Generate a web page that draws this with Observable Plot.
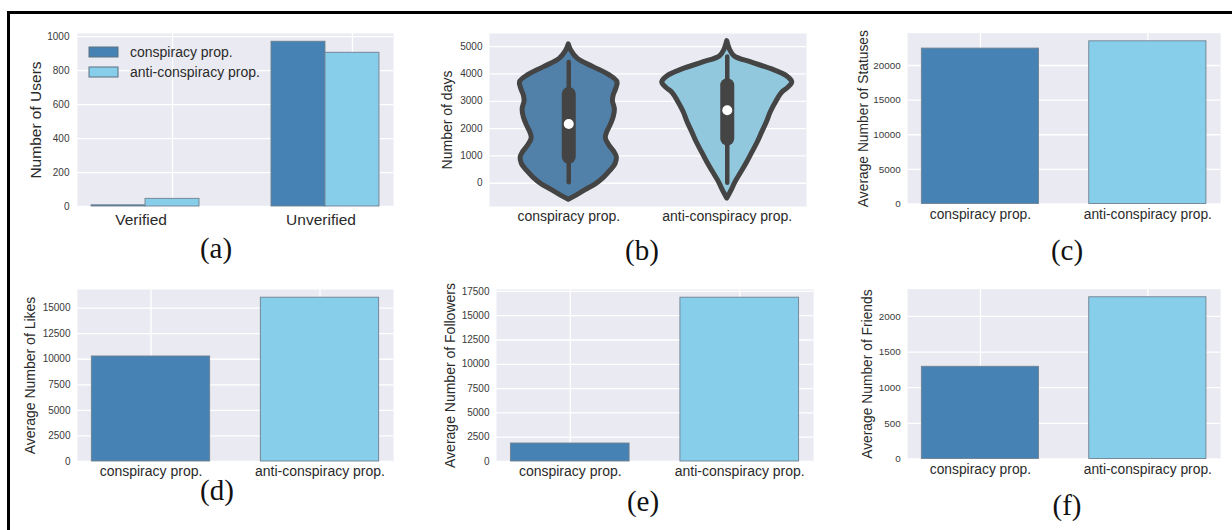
<!DOCTYPE html>
<html><head><meta charset="utf-8">
<script src="https://cdn.jsdelivr.net/npm/d3@7"></script>
<script src="https://cdn.jsdelivr.net/npm/@observablehq/plot@0.6"></script>
<style>
html,body{margin:0;padding:0;background:#fff;}
#page{position:relative;width:1232px;height:530px;overflow:hidden;font-family:"Liberation Sans",Arial,sans-serif;}
#border{position:absolute;left:7px;top:11px;width:1260px;height:560px;border-left:3px solid #000;border-top:3px solid #000;}
.panel{position:absolute;}
.panel svg{overflow:visible;}
.cap{position:absolute;width:60px;margin-left:-30px;text-align:center;font-family:"Liberation Serif","Times New Roman",serif;font-size:29px;line-height:29px;color:#111;}
#legend{position:absolute;left:89px;top:42px;}
.leg-swatch{height:20px;padding-bottom:0!important;margin:0!important;display:flex;align-items:center;}
.leg-swatch > svg{margin-right:12px!important;overflow:visible;}
.leg-swatch rect{stroke:#5d7080;stroke-width:1;}
</style></head><body><div id="page"><div id="border"></div></div>
<script>
// ---------------- data ----------------
const seriesNames = ["conspiracy prop.", "anti-conspiracy prop."];
const barColors = ["#4682B4", "#87CEEB"];
const violinColors = ["#5181a9", "#92c8dd"];

// (a) verified / unverified user counts
const groupsA = ["Verified", "Unverified"];
const consA = [7, 970];
const antiA = [45, 905];
const ticksA = [0, 200, 400, 600, 800, 1000];

// (b) account age (days) violin profiles: [days, relative density]
const consViolin = [[5080,0],[4850,0.04],[4550,0.14],[4250,0.38],[3950,0.63],[3700,0.75],[3450,0.73],[3200,0.69],[3000,0.68],[2700,0.71],[2400,0.69],[2100,0.64],[1850,0.59],[1650,0.57],[1400,0.62],[1150,0.70],[950,0.74],[700,0.72],[450,0.64],[200,0.54],[-50,0.41],[-250,0.26],[-450,0.12],[-600,0]];
const antiViolin = [[5200,0],[4900,0.04],[4650,0.11],[4420,0.37],[4175,0.68],[3930,0.91],[3690,1.0],[3500,0.94],[3300,0.84],[3000,0.76],[2600,0.67],[2230,0.61],[1870,0.54],[1500,0.47],[1140,0.39],[780,0.31],[410,0.22],[50,0.13],[-300,0.06],[-560,0]];
// box stats: [whisker low, q1, median, q3, whisker high]
const consBox = [20, 950, 2170, 3250, 4420];
const antiBox = [0, 1620, 2670, 3570, 4620];
const ticksB = [0, 1000, 2000, 3000, 4000, 5000];

// (c)-(f) averages
const statuses = [22440, 23490];
const likes = [10270, 16020];
const followers = [1850, 16850];
const friends = [1293, 2268];
const ticksC = [0, 5000, 10000, 15000, 20000];
const ticksD = [0, 2500, 5000, 7500, 10000, 12500, 15000];
const ticksE = [0, 2500, 5000, 7500, 10000, 12500, 15000, 17500];
const ticksF = [0, 500, 1000, 1500, 2000];

// ---------------- helpers ----------------
const page = document.getElementById("page");
const BG = "#EAEAF2";
const baseStyle = {fontFamily: "'Liberation Sans', Arial, sans-serif", color: "#333", background: "transparent", overflow: "visible"};
const ML = 70, MT = 25, MR = 12, MB = 40;
const plain = d => String(d);

function place(chart, rect) {
  const d = document.createElement("div");
  d.className = "panel";
  d.style.left = (rect[0] - ML) + "px";
  d.style.top = (rect[1] - MT) + "px";
  d.appendChild(chart);
  page.appendChild(d);
}
function dims(rect) {
  return {width: rect[2] - rect[0] + ML + MR, height: rect[3] - rect[1] + MT + MB,
          marginLeft: ML, marginTop: MT, marginRight: MR, marginBottom: MB};
}
const gridOpts = {stroke: "white", strokeOpacity: 1, strokeWidth: 1.3};
function yTicks(ticks) {
  return Plot.axisY(ticks, {tickSize: 0, tickPadding: 7, fontSize: 10, label: null, tickFormat: plain, fill: "#3a3a3a"});
}
function yLabel(label, labelOffset, fontSize) {
  return Plot.axisY([], {label, labelArrow: false, labelAnchor: "center", labelOffset, fontSize, fill: "#2a2a2a"});
}

function barPanel(values, ticks, label, labelOffset, rect) {
  const rows = values.map((v, i) => ({i, v}));
  const chart = Plot.plot({
    ...dims(rect),
    x: {domain: [-0.435, 1.435]},
    y: {domain: [0, d3.max(values) * 1.05]},
    color: {domain: seriesNames, range: barColors},
    style: baseStyle,
    marks: [
      Plot.frame({fill: BG, stroke: "none"}),
      Plot.gridY(ticks, gridOpts),
      Plot.gridX([0, 1], gridOpts),
      Plot.rectY(rows, {x1: d => d.i - 0.35, x2: d => d.i + 0.35, y1: 0, y2: "v",
        fill: d => seriesNames[d.i], stroke: "#6f8090", strokeWidth: 0.9}),
      yTicks(ticks),
      yLabel(label, labelOffset, 14),
      Plot.axisX([0, 1], {tickSize: 0, tickPadding: 5, fontSize: 14, label: null, fill: "#2a2a2a", tickFormat: i => seriesNames[i]})
    ]
  });
  place(chart, rect);
}

// ---------------- (a) ----------------
{
  const rect = [77, 33, 393, 206];
  const rows = [];
  groupsA.forEach((g, gi) => {
    rows.push({g: gi, s: 0, v: consA[gi]});
    rows.push({g: gi, s: 1, v: antiA[gi]});
  });
  const chart = Plot.plot({
    ...dims(rect),
    x: {domain: [-0.378, 1.378]},
    y: {domain: [0, d3.max(consA.concat(antiA)) * 1.05]},
    color: {domain: seriesNames, range: barColors},
    style: baseStyle,
    marks: [
      Plot.frame({fill: BG, stroke: "none"}),
      Plot.gridY(ticksA, gridOpts),
      Plot.gridX(groupsA.map((g, i) => i + 0.15), gridOpts),
      Plot.rectY(rows, {x1: d => d.g + (d.s - 1) * 0.3, x2: d => d.g + d.s * 0.3, y1: 0, y2: "v",
        fill: d => seriesNames[d.s], stroke: "#6f8090", strokeWidth: 0.9}),
      Plot.axisY(ticksA, {tickSize: 0, tickPadding: 8, fontSize: 10, label: null, tickFormat: plain, fill: "#3a3a3a"}),
      yLabel("Number of Users", 48, 15.5),
      Plot.axisX([0, 1], {tickSize: 0, tickPadding: 7, fontSize: 15.5, dx: -4.5, label: null, fill: "#2a2a2a", tickFormat: i => groupsA[i]})
    ]
  });
  place(chart, rect);
  const leg = Plot.legend({
    color: {domain: seriesNames, range: barColors},
    legend: "swatches", columns: 1, swatchWidth: 29, swatchHeight: 10, className: "leg",
    style: {fontSize: "14px", fontFamily: "'Liberation Sans', Arial, sans-serif", color: "#2a2a2a", margin: 0}
  });
  const ld = document.createElement("div");
  ld.id = "legend";
  ld.appendChild(leg);
  page.appendChild(ld);
}

// ---------------- (b) ----------------
{
  const rect = [489, 33, 806, 206];
  const vrows = [
    ...consViolin.map(([y, w]) => ({i: 0, y, w})),
    ...antiViolin.map(([y, w]) => ({i: 1, y, w}))
  ];
  const boxes = [consBox, antiBox].map((b, i) => ({i, lo: b[0], q1: b[1], med: b[2], q3: b[3], hi: b[4]}));
  const W = 0.41;
  const chart = Plot.plot({
    ...dims(rect),
    x: {domain: [-0.5, 1.5]},
    y: {domain: [-850, 5480]},
    color: {domain: seriesNames, range: violinColors},
    style: baseStyle,
    marks: [
      Plot.frame({fill: BG, stroke: "none"}),
      Plot.gridY(ticksB, gridOpts),
      Plot.areaX(vrows, {y: "y", x1: d => d.i - d.w * W, x2: d => d.i + d.w * W, z: "i",
        fill: d => seriesNames[d.i], stroke: "#444", strokeWidth: 5, strokeLinejoin: "round", curve: "catmull-rom"}),
      Plot.ruleX(boxes, {x: "i", y1: "lo", y2: "hi", stroke: "#444", strokeWidth: 4.5, strokeLinecap: "round"}),
      Plot.ruleX(boxes, {x: "i", y1: "q1", y2: "q3", stroke: "#444", strokeWidth: 14, strokeLinecap: "round"}),
      Plot.dot(boxes, {x: "i", y: "med", r: 5, fill: "white", stroke: "none"}),
      yTicks(ticksB),
      yLabel("Number of days", 47, 14),
      Plot.axisX([0, 1], {tickSize: 0, tickPadding: 5, fontSize: 14, label: null, fill: "#2a2a2a", tickFormat: i => seriesNames[i]})
    ]
  });
  place(chart, rect);
}

// ---------------- (c)-(f) ----------------
barPanel(statuses, ticksC, "Average Number of Statuses", 50, [908, 33, 1225, 206]);
barPanel(likes, ticksD, "Average Number of Likes", 52, [77, 289, 393, 461]);
barPanel(followers, ticksE, "Average Number of Followers", 51, [496, 289, 813, 461]);
barPanel(friends, ticksF, "Average Number of Friends", 46, [908, 289, 1225, 461]);

// ---------------- captions ----------------
const captions = ["(a)", "(b)", "(c)", "(d)", "(e)", "(f)"];
const capPos = [[216, 248], [642, 250], [1067, 250], [217, 490], [643, 501], [1067, 505]];
captions.forEach((c, k) => {
  const d = document.createElement("div");
  d.className = "cap";
  d.textContent = c;
  d.style.left = capPos[k][0] + "px";
  d.style.top = (capPos[k][1] - 14.5) + "px";
  page.appendChild(d);
});
</script></body></html>
